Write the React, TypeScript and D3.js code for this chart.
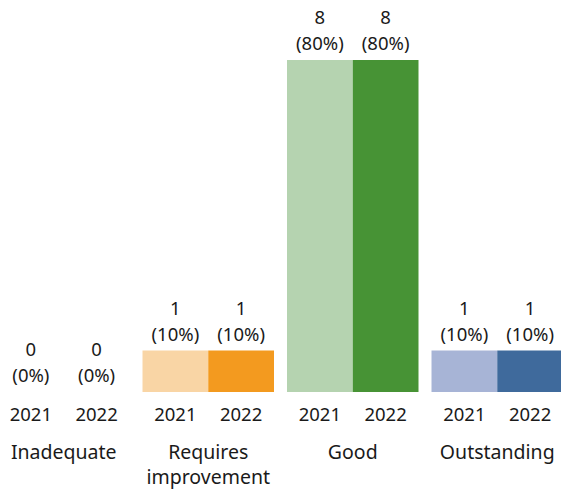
import React from 'react';
import * as d3 from 'd3';

const categories = ['Inadequate', 'Requires improvement', 'Good', 'Outstanding'];
const categoryLines = [['Inadequate'], ['Requires', 'improvement'], ['Good'], ['Outstanding']];
const years = ['2021', '2022'];
const counts2021 = [0, 1, 8, 1];
const counts2022 = [0, 1, 8, 1];
const percents2021 = ['0%', '10%', '80%', '10%'];
const percents2022 = ['0%', '10%', '80%', '10%'];
const colors2021 = ['#d9d9d9', '#f9d5a5', '#b5d3b0', '#a7b4d6'];
const colors2022 = ['#bfbfbf', '#f39a1f', '#479335', '#3f6a9c'];

const W = 561;
const H = 494;
const FONT = '"Noto Sans", "Open Sans", sans-serif';

export default function App() {
  const x0 = d3.scaleBand<string>().domain(categories).range([-2, 563]).paddingInner(0.09).paddingOuter(0);
  const x1 = d3.scaleBand<string>().domain(years).range([0, x0.bandwidth()]);
  const y = d3.scaleLinear().domain([0, 8]).range([392, 60]);

  const rows = categories.map((c, i) => ({
    cat: c,
    lines: categoryLines[i],
    bars: [
      { year: years[0], value: counts2021[i], pct: percents2021[i], color: colors2021[i] },
      { year: years[1], value: counts2022[i], pct: percents2022[i], color: colors2022[i] },
    ],
  }));

  return (
    <svg width={W} height={H} style={{ position: 'absolute', left: 0, top: 0, fontFamily: FONT }}>
      <rect width={W} height={H} fill="#fff" />
      {rows.map(r => {
        const gx = x0(r.cat)!;
        return (
          <g key={r.cat} transform={`translate(${gx},0)`}>
            {r.bars.map(b => {
              const bx = x1(b.year)!;
              const cx = bx + x1.bandwidth() / 2;
              const top = y(b.value);
              return (
                <g key={b.year}>
                  {b.value > 0 && (
                    <rect x={bx} y={top} width={x1.bandwidth()} height={y(0) - top} fill={b.color} />
                  )}
                  <text x={cx} y={top - 36} textAnchor="middle" fontSize={18.5} fill="#1a1a1a">{b.value}</text>
                  <text x={cx} y={top - 10} textAnchor="middle" fontSize={18.5} fill="#1a1a1a">({b.pct})</text>
                  <text x={cx} y={421} textAnchor="middle" fontSize={18.5} fill="#1a1a1a">{b.year}</text>
                </g>
              );
            })}
            {r.lines.map((ln, j) => (
              <text key={ln} x={x0.bandwidth() / 2} y={459 + j * 25} textAnchor="middle" fontSize={19.5} fill="#1a1a1a">{ln}</text>
            ))}
          </g>
        );
      })}
    </svg>
  );
}
